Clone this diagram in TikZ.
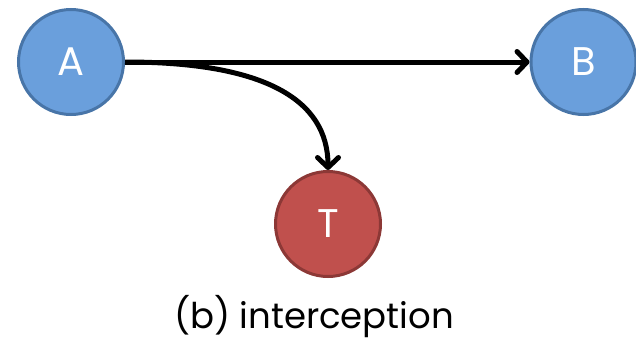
\documentclass[tikz,border=0pt]{standalone}
\usepackage{fontspec}
\setmainfont{Poppins}
\usetikzlibrary{arrows.meta}
\definecolor{bluefill}{RGB}{106,159,220}
\definecolor{blueline}{RGB}{72,117,168}
\definecolor{redfill}{RGB}{192,80,77}
\definecolor{redline}{RGB}{140,56,54}
\tikzset{
  vert/.style={circle, minimum size=105pt, inner sep=0pt, line width=3pt, text=white, font=\fontsize{40}{40}\selectfont},
  bluevert/.style={vert, draw=blueline, fill=bluefill},
  redvert/.style={vert, draw=redline, fill=redfill},
  conn/.style={line width=5pt, -{Straight Barb[length=10pt,width=21pt,line join=round,line cap=round]}},
}
\begin{document}
\begin{tikzpicture}[x=1pt,y=-1pt]
\useasboundingbox (0,0) rectangle (636,343);
\node[bluevert] (A) at (71,62) {A};
\node[bluevert] (B) at (583.5,62) {B};
\node[redvert] (T) at (328,224) {T};
\draw[conn] (A.east) -- (B.west);
\draw[conn] (A.east) .. controls (265,62) and (328,100) .. (T.north);
\node[font=\fontsize{35.5}{35.5}\selectfont, anchor=base] (cap) at (314,328) {(b) interception};
\end{tikzpicture}
\end{document}
